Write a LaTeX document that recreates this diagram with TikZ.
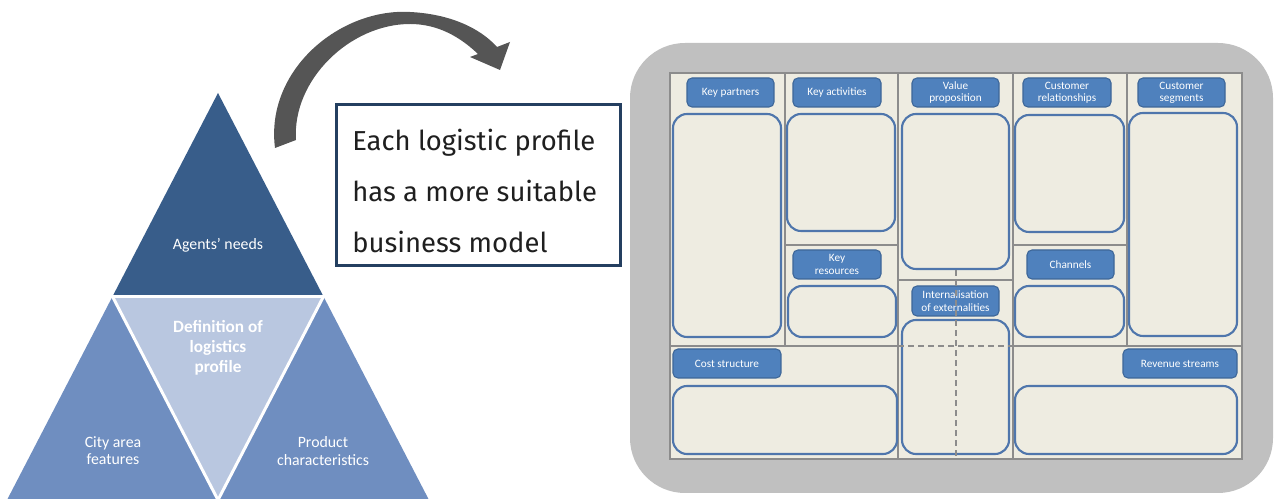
\documentclass[tikz,border=0pt]{standalone}
\usepackage{fontspec}
\setmainfont{Carlito}
\newfontfamily\msgfont{Fira Sans}
\usetikzlibrary{fit}

\definecolor{tridark}{HTML}{385D8A}
\definecolor{triside}{HTML}{6F8EC0}
\definecolor{trimid}{HTML}{B9C7E0}
\definecolor{arrowgray}{HTML}{555555}
\definecolor{navyline}{HTML}{243F60}
\definecolor{canvasbg}{HTML}{C0C0C0}
\definecolor{paper}{HTML}{EEECE1}
\definecolor{gridgray}{HTML}{8C8C8C}
\definecolor{hdrblue}{HTML}{4F81BD}
\definecolor{hdrline}{HTML}{3D6698}
\definecolor{cellline}{HTML}{4F76AC}

\begin{document}
\begin{tikzpicture}[
    x=0.02cm, y=-0.02cm,
    tri/.style={text=white, align=center, font=\fontsize{9}{9.8}\selectfont},
    msgbox/.style={draw=navyline, line width=1.7pt, fill=white, minimum width=5.68cm, minimum height=3.22cm, inner sep=0pt},
    msgtext/.style={align=left, inner sep=0pt, text=black!88, font=\msgfont\fontsize{15.6}{29}\selectfont},
    divider/.style={draw=gridgray, line width=0.8pt},
    cell/.style={draw=cellline, fill=paper, line width=1.2pt, rounded corners=8pt, inner sep=0pt},
    hdr/.style={draw=hdrline, fill=hdrblue, line width=0.6pt, rounded corners=2.8pt, inner sep=0pt, minimum width=1.74cm, minimum height=0.58cm, text=white, align=center, font=\fontsize{6.4}{7}\selectfont}
  ]
    \useasboundingbox (0,0) rectangle (1275,499);

    % Pyramid
    \coordinate (apex) at (218,93);
    \coordinate (bl) at (7,500);
    \coordinate (br) at (429,500);
    \coordinate (ml) at (112.5,296.5);
    \coordinate (mr) at (323.5,296.5);
    \coordinate (mb) at (218,500);
    \fill[tridark] (apex) -- (ml) -- (mr) -- cycle;
    \fill[triside] (ml) -- (bl) -- (mb) -- cycle;
    \fill[triside] (mr) -- (mb) -- (br) -- cycle;
    \fill[trimid] (ml) -- (mr) -- (mb) -- cycle;
    \draw[white, line width=1.7pt] (ml) -- (mr) -- (mb) -- cycle;

    \node[tri] (needs) at (218,245) {Agents' needs};
    \node[tri, font=\bfseries\fontsize{9.8}{11.3}\selectfont] (profile) at (218,348) {Definition of\\logistics\\profile};
    \node[tri] (city) at (113,451) {City area\\features};
    \node[tri] (product) at (323,451) {Product\\characteristics};

    % Curved arrow
    \fill[arrowgray] (275,148) .. controls (265,70) and (340,8) .. (410,12)
      .. controls (450,14) and (480,28) .. (497,47) -- (510,42) -- (500,70)
      -- (470,57) -- (478,54) .. controls (455,32) and (432,24) .. (410,24)
      .. controls (350,24) and (292,80) .. (296,140) -- cycle;

    % Message
    \node[msgbox] (msg) at (478.5,185) {};
    \node[msgtext, anchor=west] (msg-text) at (352,191) {Each logistic profile\\has a more suitable\\business model};

    % Canvas
    \fill[canvasbg, rounded corners=1.1cm] (630,43) rectangle (1273,493);
    \draw[divider, fill=paper] (670,73) rectangle (1242,459);
    \draw[divider] (785,73) -- (785,346);
    \draw[divider] (898,73) -- (898,459);
    \draw[divider] (1013,73) -- (1013,459);
    \draw[divider] (1127,73) -- (1127,346);
    \draw[divider] (670,346) -- (898,346);
    \draw[divider] (1013,346) -- (1242,346);
    \draw[divider] (785,245) -- (898,245);
    \draw[divider] (1013,245) -- (1127,245);
    \draw[divider] (898,280) -- (1013,280);

    % Cells
    \node[cell, fit={(673,114) (781,337)}] (kp-cell) {};
    \node[cell, fit={(787,114) (895,231)}] (ka-cell) {};
    \node[cell, fit={(902,114) (1009,269)}] (vp-cell) {};
    \node[cell, fit={(1015,115) (1124,232)}] (cr-cell) {};
    \node[cell, fit={(1129,113) (1237,336)}] (cs-cell) {};
    \node[cell, fit={(788,286) (896,337)}] (kr-cell) {};
    \node[cell, fit={(1015,286) (1124,337)}] (ch-cell) {};
    \node[cell, fit={(902,320) (1009,454)}] (ie-cell) {};
    \node[cell, fit={(673,386) (897,454)}] (cst-cell) {};
    \node[cell, fit={(1015,386) (1237,454)}] (rs-cell) {};

    % Headers
    \node[hdr] (kp) at (730.5,92.5) {Key partners};
    \node[hdr, minimum width=1.76cm] (ka) at (837,92.5) {Key activities};
    \node[hdr] (vp) at (955.5,92.5) {Value\\proposition};
    \node[hdr, minimum width=1.76cm] (cr) at (1067,92.5) {Customer\\relationships};
    \node[hdr] (cs) at (1181.5,92.5) {Customer\\segments};
    \node[hdr, minimum width=1.76cm] (kr) at (837,264.5) {Key\\resources};
    \node[hdr] (ch) at (1070.5,264.5) {Channels};
    \node[hdr, minimum height=0.6cm] (ie) at (955.5,301) {Internalisation\\of externalities};
    \node[hdr, minimum width=2.16cm] (cst) at (727,363.5) {Cost structure};
    \node[hdr, minimum width=2.28cm] (rs) at (1180,363.5) {Revenue streams};

    % Dashed split
    \draw[divider, dash pattern=on 3.4pt off 2.3pt] (956,270) -- (956,459);
    \draw[divider, dash pattern=on 3.4pt off 2.3pt] (898,346) -- (1013,346);
  \end{tikzpicture}
\end{document}
